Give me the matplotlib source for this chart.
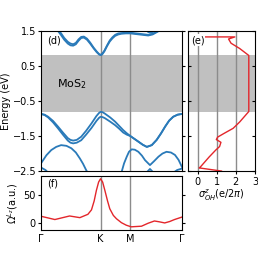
import numpy as np
import matplotlib
matplotlib.use('Agg')
import matplotlib.pyplot as plt

# high-symmetry points (path length)
kpts = [0.0, 1.333, 2.0, 3.155]
klabels = ['Γ', 'K', 'M', 'Γ']

# conduction bands (two spin branches)
cb_k = [0.38, 0.45, 0.52, 0.60, 0.66, 0.72, 0.78, 0.84, 0.90, 0.96, 1.03, 1.10, 1.18, 1.25, 1.30, 1.333, 1.37, 1.42, 1.48, 1.54, 1.60, 1.66, 1.73, 1.80, 1.90, 2.0, 2.2, 2.4, 2.5, 2.6, 2.68]
cb_a = [1.50, 1.38, 1.25, 1.14, 1.09, 1.08, 1.12, 1.22, 1.30, 1.31, 1.25, 1.14, 1.00, 0.89, 0.83, 0.81, 0.83, 0.92, 1.07, 1.20, 1.29, 1.36, 1.40, 1.42, 1.43, 1.43, 1.40, 1.37, 1.40, 1.47, 1.53]
cb_b = [1.55, 1.43, 1.30, 1.19, 1.14, 1.12, 1.16, 1.26, 1.33, 1.34, 1.28, 1.17, 1.02, 0.91, 0.84, 0.82, 0.85, 0.94, 1.09, 1.23, 1.32, 1.39, 1.43, 1.44, 1.45, 1.45, 1.42, 1.39, 1.42, 1.49, 1.55]
cb2_k = [2.32, 2.40, 2.45, 2.50, 2.58]
cb2_e = [1.56, 1.47, 1.45, 1.47, 1.56]

# top valence band pair
vb_k = [0.0, 0.08, 0.16, 0.27, 0.38, 0.49, 0.60, 0.66, 0.72, 0.80, 0.90, 1.01, 1.13, 1.24, 1.30, 1.333, 1.38, 1.43, 1.55, 1.66, 1.75, 1.84, 1.92, 2.0, 2.09, 2.18, 2.28, 2.37, 2.48, 2.59, 2.69, 2.78, 2.87, 2.96, 3.06, 3.155]
vb_a = [-0.87, -0.89, -0.95, -1.07, -1.23, -1.40, -1.56, -1.61, -1.63, -1.61, -1.52, -1.35, -1.14, -0.93, -0.84, -0.81, -0.82, -0.86, -0.97, -1.09, -1.21, -1.33, -1.42, -1.50, -1.58, -1.66, -1.75, -1.81, -1.76, -1.61, -1.42, -1.23, -1.06, -0.95, -0.89, -0.87]
vb_b = [-0.87, -0.90, -0.97, -1.11, -1.28, -1.46, -1.63, -1.69, -1.71, -1.69, -1.62, -1.46, -1.27, -1.07, -0.98, -0.95, -0.96, -0.99, -1.09, -1.19, -1.29, -1.40, -1.46, -1.50, -1.58, -1.66, -1.75, -1.81, -1.76, -1.61, -1.42, -1.23, -1.06, -0.95, -0.89, -0.87]

# lower valence bands
vb2_k1 = [0.0, 0.12, 0.23, 0.34, 0.45, 0.57, 0.68, 0.78, 0.87, 0.94, 1.01, 1.06]
vb2_e1 = [-2.28, -2.05, -1.90, -1.81, -1.76, -1.78, -1.85, -1.97, -2.14, -2.29, -2.47, -2.58]
vb2_k2 = [1.78, 1.806, 1.86, 1.92, 1.97, 2.03, 2.10, 2.18, 2.26, 2.33, 2.44, 2.53, 2.63, 2.72, 2.81, 2.91, 3.0, 3.08, 3.155]
vb2_e2 = [-2.60, -2.52, -2.28, -2.09, -1.95, -1.88, -1.89, -1.95, -2.06, -2.19, -2.33, -2.22, -2.09, -2.00, -1.95, -1.97, -2.04, -2.18, -2.38]
vb3_k1 = [0.0, 0.10, 0.17]
vb3_e1 = [-2.40, -2.47, -2.56]
vb3_k2 = [2.95, 3.05, 3.155]
vb3_e2 = [-2.56, -2.47, -2.43]
vb4_k = [2.35, 2.44, 2.53]
vb4_e = [-2.56, -2.44, -2.56]

# orbital Hall conductivity vs energy
sig_x = [0.35, 1.95, 1.62, 1.75, 2.2, 2.68, 2.68, 2.2, 1.86, 1.4, 1.05, 0.98, 1.22, 1.15, 0.95, 0.6, 0.15, 0.08, 1.25]
sig_e = [1.33, 1.33, 1.27, 1.15, 1.0, 0.80, -0.80, -1.1, -1.28, -1.42, -1.53, -1.60, -1.68, -1.80, -1.90, -2.1, -2.38, -2.41, -2.50]

# orbital Berry curvature along path
om_k = [0.0, 0.31, 0.64, 0.87, 1.05, 1.13, 1.19, 1.24, 1.29, 1.333, 1.38, 1.43, 1.49, 1.54, 1.62, 1.69, 1.80, 1.91, 2.02, 2.25, 2.40, 2.54, 2.65, 2.77, 2.88, 2.99, 3.155]
om_v = [12.5, 6.6, 13, 10, 16, 24, 40, 59, 74, 80, 74, 59, 40, 26, 14, 8, 1, -3.6, -6.5, -5.4, 0, 4, 2.5, 0.5, 3, 6.6, 11]

blue = '#2a7ab9'
red = '#e3262b'
gray = '#c0c0c0'
lgray = '#8c8c8c'

plt.rcParams['font.size'] = 7
fig = plt.figure(figsize=(2.58, 2.58), dpi=100)
ax = fig.add_axes([0.159, 0.337, 0.546, 0.543])
axe = fig.add_axes([0.729, 0.337, 0.259, 0.543])
axf = fig.add_axes([0.159, 0.109, 0.546, 0.209])

# (d) bands
ax.axhspan(-0.8, 0.8, color=gray, lw=0)
for kk in kpts[1:3]:
    ax.axvline(kk, color=lgray, lw=1)
lw = 1.3
ax.plot(cb_k, cb_a, c=blue, lw=lw)
ax.plot(cb_k, cb_b, c=blue, lw=lw)
ax.plot(cb2_k, cb2_e, c=blue, lw=lw)
ax.plot(vb_k, vb_a, c=blue, lw=lw)
ax.plot(vb_k, vb_b, c=blue, lw=lw)
ax.plot(vb2_k1, vb2_e1, c=blue, lw=lw)
ax.plot(vb2_k2, vb2_e2, c=blue, lw=lw)
ax.plot(vb3_k1, vb3_e1, c=blue, lw=lw)
ax.plot(vb3_k2, vb3_e2, c=blue, lw=lw)
ax.plot(vb4_k, vb4_e, c=blue, lw=lw)
ax.set_xlim(0, kpts[-1])
ax.set_ylim(-2.5, 1.5)
ax.set_yticks([1.5, 0.5, -0.5, -1.5, -2.5])
ax.set_xticks([])
ax.tick_params(axis='y', right=True, which='both', length=2, pad=1.5)
ax.set_ylabel('Energy (eV)', labelpad=1)
ax.text(0.04, 0.97, '(d)', transform=ax.transAxes, va='top', ha='left', fontsize=7)
ax.text(0.11, 0.62, 'MoS$_2$', transform=ax.transAxes, va='center', ha='left', fontsize=8)

# (e) conductivity
axe.axhspan(-0.8, 0.8, color=gray, lw=0)
for xx in [0, 1, 2]:
    axe.axvline(xx, color=lgray, lw=1)
axe.plot(sig_x, sig_e, c=red, lw=1)
axe.set_xlim(-0.5, 3)
axe.set_ylim(-2.5, 1.5)
axe.set_xticks([0, 1, 2, 3])
axe.set_yticks([1.5, 0.5, -0.5, -1.5, -2.5])
axe.tick_params(axis='y', left=True, right=True, direction='in', labelleft=False, length=2)
axe.tick_params(axis='x', length=2, pad=2)
axe.set_xlabel(r'$\sigma^{z}_{OH}$(e/2$\pi$)', labelpad=1, fontsize=7)
axe.text(0.04, 0.97, '(e)', transform=axe.transAxes, va='top', ha='left', fontsize=7,
         bbox=dict(facecolor='white', edgecolor='none', pad=0.5))

# (f) Berry curvature
for kk in kpts[1:3]:
    axf.axvline(kk, color=lgray, lw=1)
axf.plot(om_k, om_v, c=red, lw=1)
axf.set_xlim(0, kpts[-1])
axf.set_ylim(-12, 85)
axf.set_yticks([0, 50])
axf.set_xticks(kpts)
axf.set_xticklabels(klabels)
axf.tick_params(axis='y', right=True, length=2, pad=2)
axf.tick_params(axis='x', length=0, pad=3)
axf.set_ylabel(r'$\Omega^{L_z}$(a.u.)', labelpad=2)
axf.text(0.04, 0.95, '(f)', transform=axf.transAxes, va='top', ha='left', fontsize=7)

fig.savefig('out.png', dpi=100)
